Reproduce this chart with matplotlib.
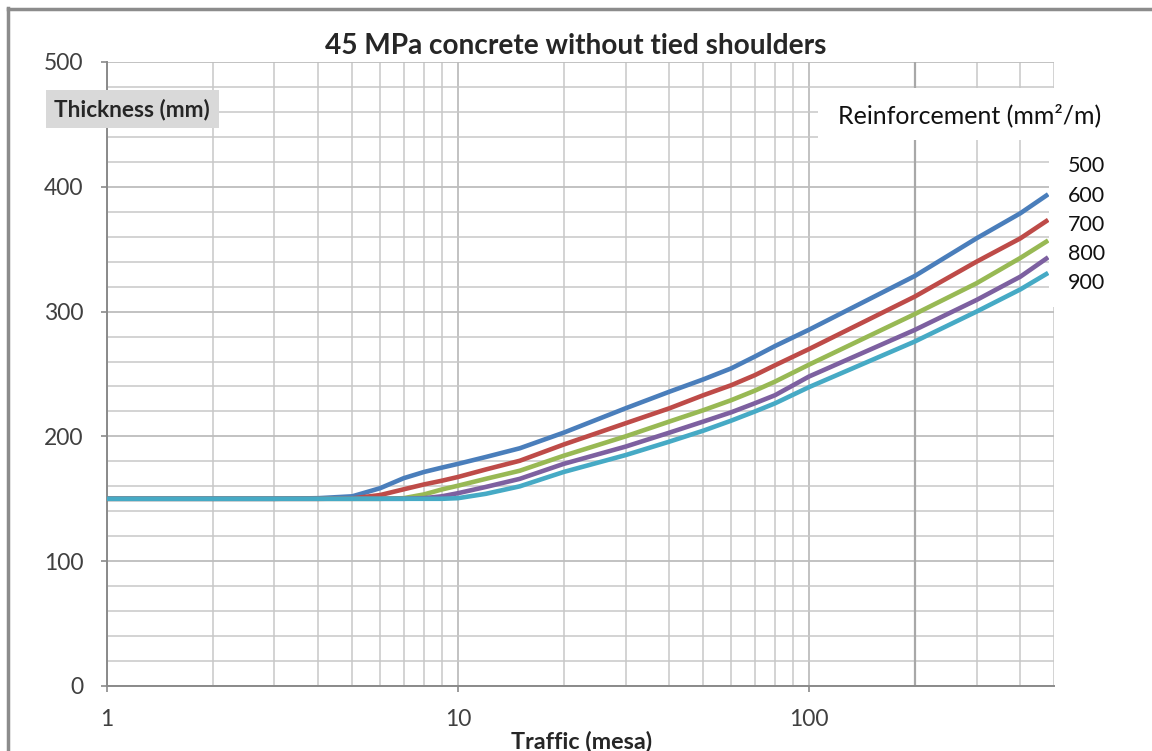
import matplotlib
matplotlib.use("Agg")
import matplotlib.pyplot as plt
from matplotlib.patches import Rectangle
from matplotlib.lines import Line2D
from matplotlib.ticker import FixedLocator, NullFormatter, FixedFormatter, MultipleLocator

plt.rcParams['font.family'] = ['Lato', 'DejaVu Sans']

# ---- data ----
traffic = [1, 2, 3, 4, 5, 6, 7, 8, 9, 10, 12, 15, 20, 30, 40, 50, 60, 70, 80, 100, 200, 300, 400, 480]
thick_500 = [150, 150, 150, 150.5, 152, 158.5, 166.5, 171.5, 175, 178, 183.5, 190.5, 203, 222.5, 235.8,
             245.7, 254.5, 263.9, 272.4, 285.5, 328.5, 358.7, 378.8, 394]
thick_600 = [150, 150, 150, 150, 150.3, 153, 157.6, 161.5, 164.5, 167.5, 173.5, 180.5, 193.5, 210.5, 222.5,
             233, 241, 249, 257, 270, 312, 340, 358.7, 373.5]
thick_700 = [150, 150, 150, 150, 150, 150, 150.5, 153.5, 157.5, 160.5, 166, 172.5, 184.5, 200, 211.9,
             221, 229, 236.6, 243.9, 257.5, 298, 322.7, 343, 357]
thick_800 = [150, 150, 150, 150, 150, 150, 150, 150.5, 152, 154.5, 159.5, 166, 178, 191.8, 203,
             211.9, 219.3, 226.5, 233, 248, 285.3, 309.3, 328, 343.5]
thick_900 = [150, 150, 150, 150, 150, 150, 150, 150, 150, 150.5, 154, 160, 171.5, 185, 195.8,
             204.6, 212.6, 219.9, 226.5, 239.5, 276, 300, 317.8, 331]
reinforcement = ["500", "600", "700", "800", "900"]
series = [thick_500, thick_600, thick_700, thick_800, thick_900]
colors = ["#4A7EBB", "#BE4B48", "#98B954", "#7D60A0", "#46AAC5"]

x_ticks = [1, 10, 100]
x_ticklabels = ["1", "10", "100"]
y_ticks = [0, 100, 200, 300, 400, 500]

W, H = 1152, 751
fig = plt.figure(figsize=(W / 100, H / 100), dpi=100)

def fx(px):
    return px / W

def fy(py):
    return 1 - py / H

left, right, top, bottom = 107, 1054.4, 62, 686
ax = fig.add_axes([fx(left), fy(bottom), fx(right) - fx(left), fy(top) - fy(bottom)])
ax.set_xscale('log')
ax.set_xlim(1, 500)
ax.set_ylim(0, 500)

ax.xaxis.set_major_locator(FixedLocator(x_ticks))
ax.xaxis.set_major_formatter(FixedFormatter(x_ticklabels))
minor_x = [m * d for d in (1, 10, 100) for m in range(2, 10) if m * d <= 500]
ax.xaxis.set_minor_locator(FixedLocator(minor_x))
ax.xaxis.set_minor_formatter(NullFormatter())
ax.yaxis.set_major_locator(FixedLocator(y_ticks))
ax.yaxis.set_minor_locator(MultipleLocator(20))

ax.grid(True, which='major', axis='both', color="#bdbdbd", lw=1.3)
ax.grid(True, which='minor', axis='both', color="#c8c8c8", lw=1.1)
ax.set_axisbelow(True)
ax.axvline(200, color="#a8a8a8", lw=1.6, zorder=1)

for s in ['top', 'right']:
    ax.spines[s].set_visible(False)
for s in ['left', 'bottom']:
    ax.spines[s].set_color("#8a8a8a")
    ax.spines[s].set_linewidth(1.4)

ax.tick_params(which='major', direction='out', length=4.3, width=1.2, color="#8a8a8a",
               labelsize=16.5, labelcolor="#404040")
ax.tick_params(which='minor', length=0)
ax.tick_params(axis='y', pad=12.5)
ax.tick_params(axis='x', pad=12)

for vals, c in zip(series, colors):
    ax.plot(traffic, vals, color=c, lw=3.3, solid_capstyle='butt', solid_joinstyle='round', zorder=3)

# figure border
fig.add_artist(Line2D([fx(7.5), fx(7.5)], [fy(8), 0], color="#8c8c8c", lw=2.5))
fig.add_artist(Line2D([fx(7.5), 1], [fy(8.5), fy(8.5)], color="#8c8c8c", lw=2.5))

# title and axis labels
fig.text(fx(575.5), fy(46), "45 MPa concrete without tied shoulders", ha='center', va='center',
         fontsize=20.2, fontweight='bold', color="#262626")
fig.add_artist(Rectangle((fx(46), fy(128)), fx(219) - fx(46), fy(90) - fy(128),
                         transform=fig.transFigure, facecolor="#d9d9d9", edgecolor='none', zorder=2))
fig.text(fx(54), fy(110), "Thickness (mm)", ha='left', va='center', fontsize=16.3,
         fontweight='bold', color="#262626", zorder=3)
fig.text(fx(582), fy(741), "Traffic (mesa)", ha='center', va='center', fontsize=16.8,
         fontweight='bold', color="#262626")

# legend-like annotation boxes
fig.add_artist(Rectangle((fx(818), fy(140)), fx(1125) - fx(818), fy(88) - fy(140),
                         transform=fig.transFigure, facecolor="white", edgecolor='none', zorder=2))
fig.add_artist(Rectangle((fx(1049), fy(307)), fx(1125) - fx(1049), fy(140) - fy(307),
                         transform=fig.transFigure, facecolor="white", edgecolor='none', zorder=2))
fig.text(fx(838), fy(115), "Reinforcement (mm²/m)", ha='left', va='center', fontsize=18,
         color="#111111", zorder=3)
label_y = [166, 195.5, 225, 254.5, 283.5]
for lab, py in zip(reinforcement, label_y):
    fig.text(fx(1068), fy(py), lab, ha='left', va='center', fontsize=15.5, color="#111111", zorder=3)

fig.savefig("out.png", dpi=100)
